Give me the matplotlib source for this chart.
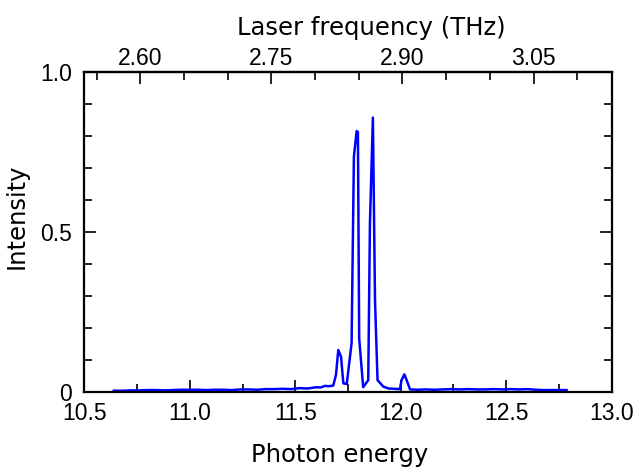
import matplotlib
matplotlib.use("Agg")
import matplotlib.pyplot as plt
from matplotlib.ticker import MultipleLocator, FormatStrFormatter

# --- data ---
energy = [10.64, 10.68, 10.72, 10.76, 10.80, 10.84, 10.88, 10.92, 10.96, 11.00,
          11.04, 11.08, 11.12, 11.16, 11.20, 11.24, 11.28, 11.32, 11.36, 11.40,
          11.44, 11.48, 11.52, 11.56, 11.60, 11.62, 11.64, 11.66, 11.68,
          11.693, 11.704, 11.717, 11.728, 11.744, 11.767, 11.778, 11.791, 11.797,
          11.803, 11.822, 11.846, 11.854, 11.868, 11.878, 11.890, 11.917, 11.941,
          11.970, 11.996, 12.004, 12.017, 12.028, 12.044,
          12.08, 12.12, 12.16, 12.20, 12.24, 12.28, 12.32, 12.36, 12.40, 12.44,
          12.48, 12.52, 12.56, 12.60, 12.64, 12.68, 12.72, 12.76, 12.786]
intensity = [0.005, 0.005, 0.006, 0.006, 0.007, 0.007, 0.006, 0.007, 0.008, 0.008,
             0.008, 0.007, 0.008, 0.008, 0.007, 0.009, 0.009, 0.008, 0.010, 0.010,
             0.011, 0.010, 0.013, 0.012, 0.016, 0.015, 0.020, 0.019, 0.021,
             0.054, 0.132, 0.111, 0.028, 0.026, 0.153, 0.735, 0.815, 0.812,
             0.168, 0.016, 0.038, 0.527, 0.857, 0.288, 0.038, 0.018, 0.012,
             0.011, 0.010, 0.038, 0.056, 0.038, 0.009,
             0.008, 0.009, 0.008, 0.009, 0.010, 0.009, 0.010, 0.009, 0.009, 0.010,
             0.009, 0.010, 0.009, 0.010, 0.008, 0.007, 0.007, 0.007, 0.007]

y_ticks = [0, 0.5, 1.0]
y_tick_labels = ["0", "0.5", "1.0"]
thz_ticks = [2.60, 2.75, 2.90, 3.05]
THZ_PER_UNIT = 0.2415  # photon energy -> laser frequency

tick_font = {"family": "Liberation Sans", "size": 16.5}
label_font = {"family": "DejaVu Sans", "size": 17.5}

fig = plt.figure(figsize=(6.37, 4.69), dpi=100)
ax = fig.add_axes([0.1323, 0.1635, 0.8280, 0.6836])

ax.plot(energy, intensity, color="#0000ff", lw=1.8)

ax.set_xlim(10.5, 13.0)
ax.set_ylim(0, 1.0)
ax.xaxis.set_major_locator(MultipleLocator(0.5))
ax.xaxis.set_minor_locator(MultipleLocator(0.25))
ax.xaxis.set_major_formatter(FormatStrFormatter("%.1f"))
ax.set_yticks(y_ticks)
ax.set_yticklabels(y_tick_labels)
ax.yaxis.set_minor_locator(MultipleLocator(0.1))

for s in ax.spines.values():
    s.set_linewidth(1.6)

ax.tick_params(axis="x", which="both", direction="in", top=False, bottom=True, width=1.2)
ax.tick_params(axis="x", which="major", length=8.5, pad=7)
ax.tick_params(axis="x", which="minor", length=5.5)
ax.tick_params(axis="y", which="both", direction="in", left=True, right=True, width=1.2)
ax.tick_params(axis="y", which="major", length=8.5, pad=9)
ax.tick_params(axis="y", which="minor", length=5.5)

for lab in ax.get_xticklabels() + ax.get_yticklabels():
    lab.set_fontfamily(tick_font["family"])
    lab.set_fontsize(tick_font["size"])

# top axis: laser frequency
top = ax.secondary_xaxis("top", functions=(lambda e: e * THZ_PER_UNIT,
                                           lambda f: f / THZ_PER_UNIT))
top.set_xticks(thz_ticks)
top.xaxis.set_minor_locator(MultipleLocator(0.05))
top.xaxis.set_major_formatter(FormatStrFormatter("%.2f"))
top.tick_params(which="both", direction="in", width=1.2)
top.tick_params(which="major", length=8.5, pad=1)
top.tick_params(which="minor", length=5.5)
top.spines["top"].set_linewidth(1.6)
for lab in top.get_xticklabels():
    lab.set_fontfamily(tick_font["family"])
    lab.set_fontsize(tick_font["size"])
top.set_xlabel("Laser frequency (THz)", fontdict=label_font, labelpad=9)
top.xaxis.label.set_x(0.544)

ax.set_xlabel("Photon energy", fontdict=label_font, labelpad=13)
ax.xaxis.label.set_x(0.485)
ax.set_ylabel("Intensity", fontdict=label_font, labelpad=8)
ax.yaxis.label.set_y(0.55)

fig.savefig("out.png", dpi=100)
